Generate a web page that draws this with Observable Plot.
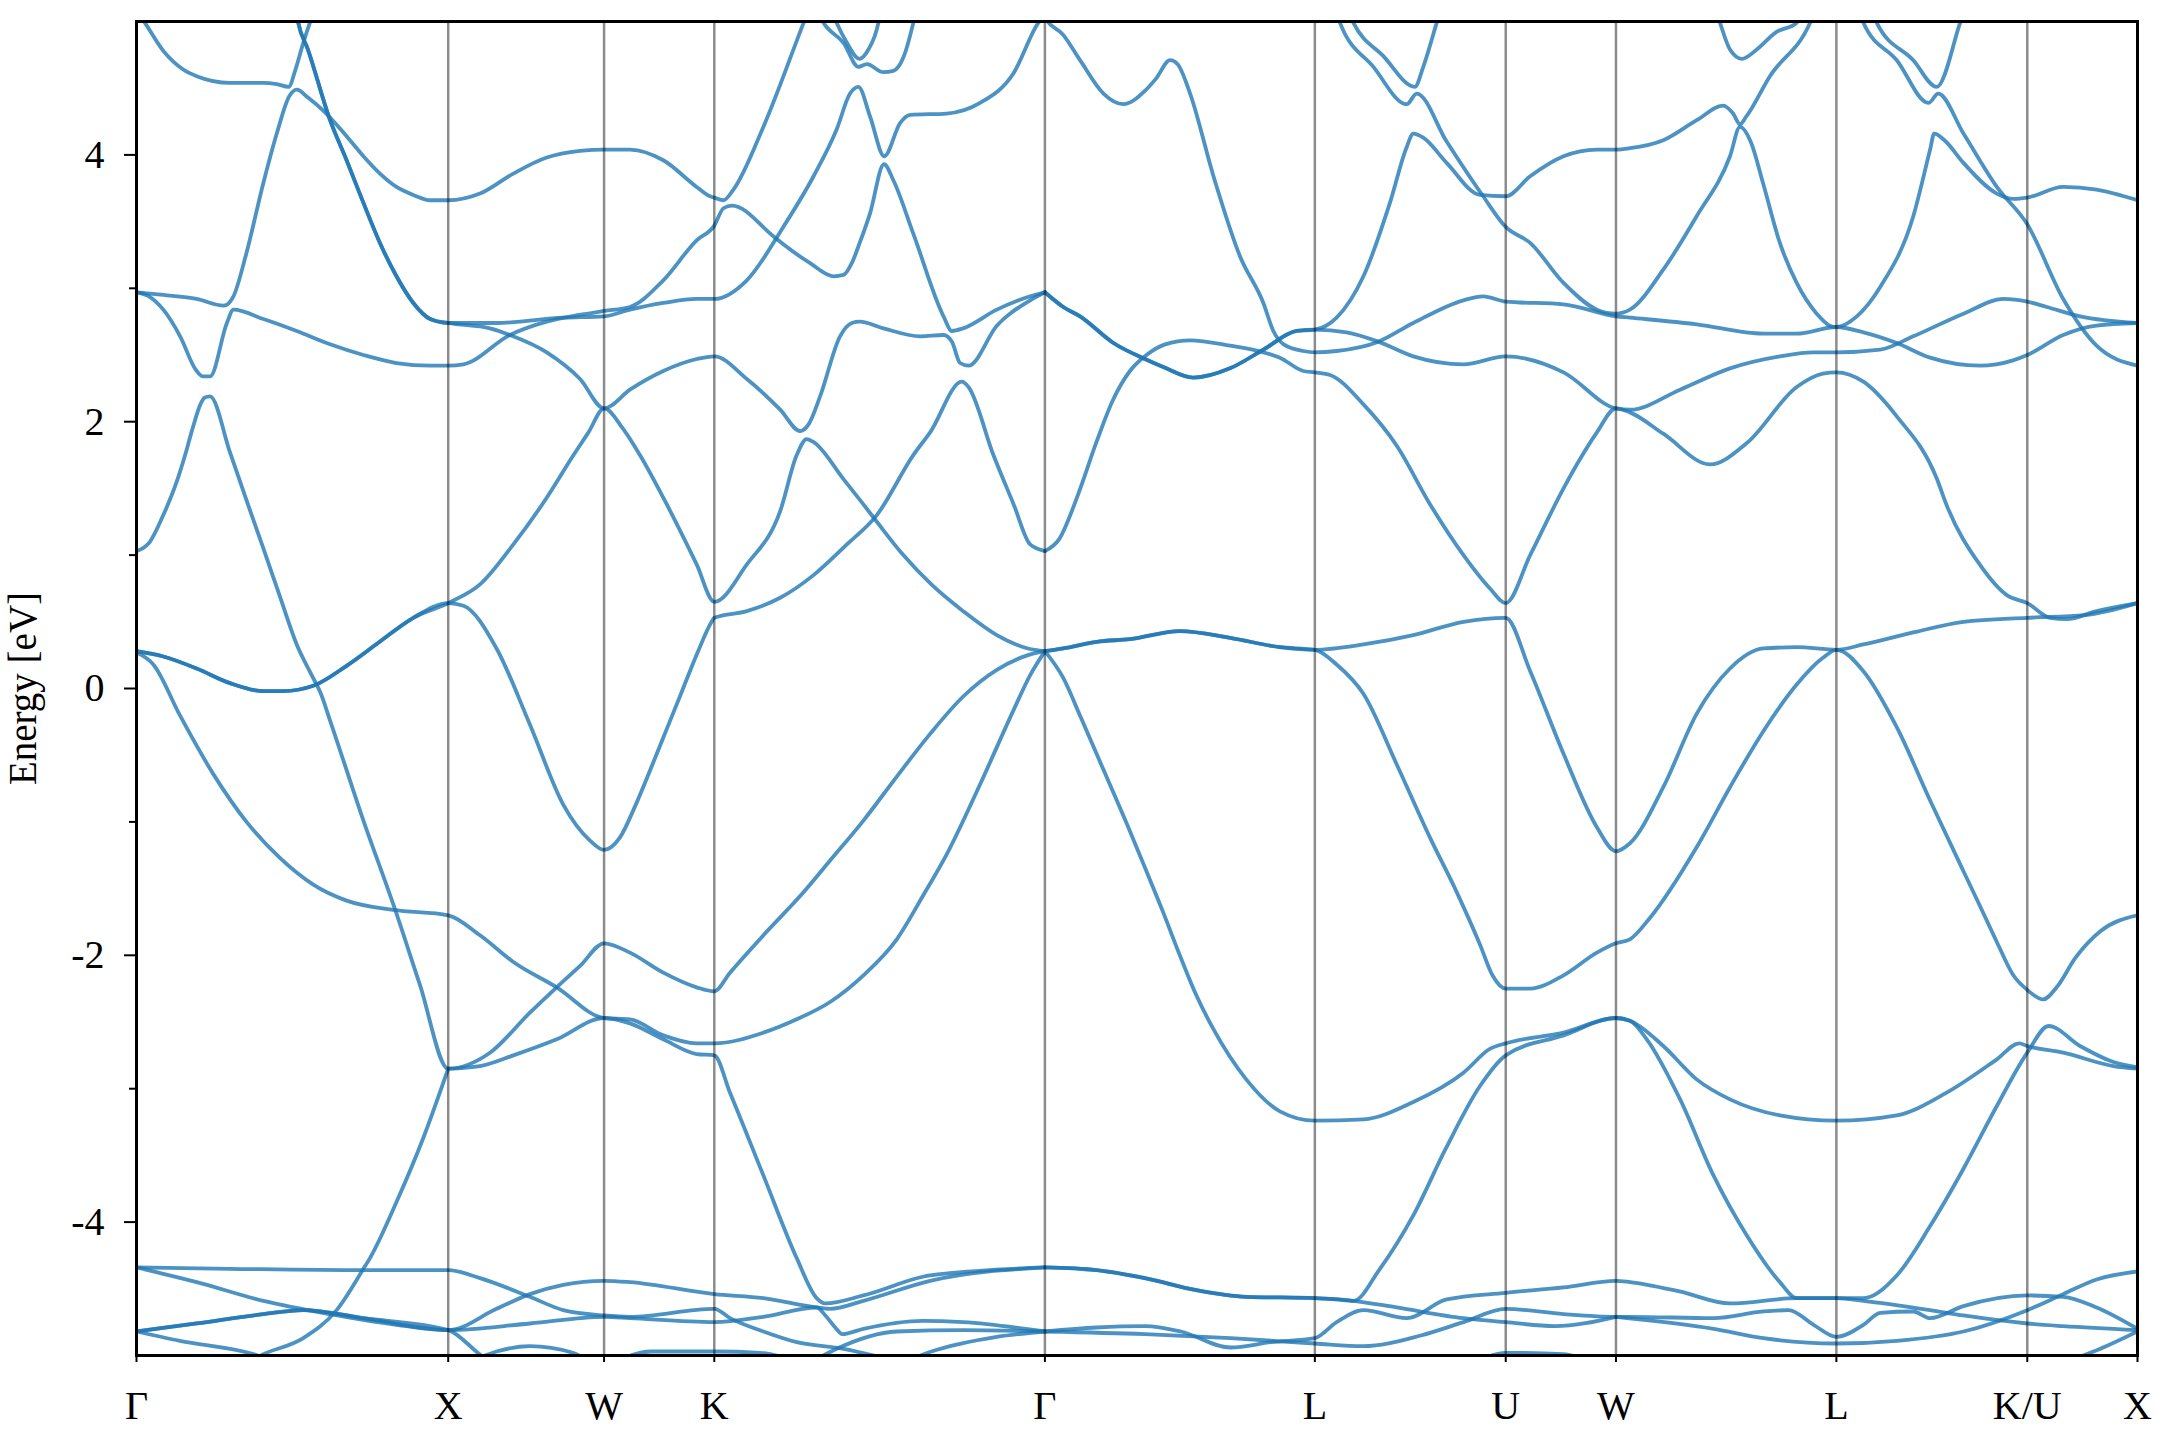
<!DOCTYPE html>
<html><head><meta charset="utf-8">
<script src="https://cdn.jsdelivr.net/npm/d3@7"></script>
<script src="https://cdn.jsdelivr.net/npm/@observablehq/plot@0.6"></script>
<style>html,body{margin:0;padding:0;background:#fff;} #chart{width:2160px;height:1440px;}</style>
</head><body><div id="chart"></div>
<script>
// High-symmetry path (k in units of 2π/a, cumulative distance)
const kPath = [0, 1, 1.5, 1.8536, 2.9142, 3.7802, 4.3926, 4.7462, 5.4533, 6.0657, 6.4193];
const kLabels = ["Γ","X","W","K","Γ","L","U","W","L","K/U","X"];
const yMajor = [-4, -2, 0, 2, 4];
const yMinor = [-3, -1, 1, 3];

// ---- shared degenerate pieces ----
const s2Core = [[0.512,5.08],[0.519,4.99],[0.55,4.79],[0.621,4.26],[0.674,3.96],[0.728,3.64],[0.781,3.34],[0.834,3.09],[0.888,2.89],[0.942,2.77],[1.0,2.74]];
const s8Core = [[0,0.28],[0.086,0.24],[0.193,0.15],[0.30,0.04],[0.407,-0.02],[0.47,-0.02],[0.567,0.02],[0.674,0.17],[0.78,0.35],[0.888,0.53],[1.0,0.64]];
const b3Core = [[0,-4.82],[0.193,-4.76],[0.407,-4.69],[0.535,-4.66],[0.728,-4.72],[1.0,-4.81]];
const h2Core = [[2.9142,2.97],[2.973,2.86],[3.027,2.79],[3.134,2.59],[3.235,2.47],[3.294,2.41],[3.39,2.33],[3.508,2.40],[3.615,2.54],[3.722,2.68],[3.7802,2.69]];
const h4Core = [[2.9142,0.28],[2.973,0.30],[3.08,0.35],[3.187,0.37],[3.347,0.43],[3.508,0.38],[3.668,0.31],[3.7802,0.29]];
const h7Core = [[2.9142,-4.34],[3.08,-4.36],[3.235,-4.42],[3.40,-4.51],[3.56,-4.56],[3.7802,-4.57]];

// ---- bands starting on Γ–X ----
const bandsGammaX = [
  [[0,5.08],[0.027,4.99],[0.086,4.78],[0.15,4.64],[0.193,4.59],[0.30,4.54],[0.407,4.54],[0.45,4.53],[0.488,4.51],[0.51,4.64],[0.535,4.84],[0.556,4.99],[0.57,5.08]],
  s2Core.concat([[1.155,2.74],[1.369,2.78],[1.5,2.79],[1.583,2.84],[1.69,2.89],[1.797,2.92],[1.8536,2.92],[1.958,3.06],[2.075,3.46],[2.172,3.84],[2.246,4.19],[2.289,4.46],[2.316,4.51],[2.353,4.29],[2.399,3.99],[2.45,4.24],[2.482,4.30],[2.599,4.31],[2.706,4.39],[2.813,4.61],[2.893,4.99],[2.9142,5.05]]),
  s2Core.concat([[1.134,2.70],[1.198,2.65],[1.316,2.52],[1.423,2.32],[1.5,2.10],[1.583,2.24],[1.69,2.38],[1.797,2.47],[1.8536,2.49],[1.958,2.32],[2.065,2.09],[2.129,1.93],[2.156,1.98],[2.193,2.19],[2.257,2.64],[2.295,2.74],[2.32,2.75],[2.396,2.70],[2.514,2.64],[2.589,2.65],[2.616,2.60],[2.642,2.44],[2.669,2.42],[2.76,2.72],[2.867,2.91],[2.9142,2.97]]),
  [[0,2.97],[0.086,2.95],[0.193,2.92],[0.28,2.87],[0.311,2.94],[0.35,3.24],[0.407,3.79],[0.45,4.16],[0.49,4.44],[0.514,4.49],[0.55,4.43],[0.60,4.33],[0.674,4.14],[0.728,3.99],[0.781,3.86],[0.834,3.76],[0.888,3.70],[0.942,3.66],[1.0,3.66],[1.102,3.71],[1.209,3.86],[1.316,3.98],[1.423,4.03],[1.5,4.04],[1.583,4.04],[1.69,3.96],[1.797,3.76],[1.84,3.69],[1.8536,3.68],[1.883,3.66],[1.915,3.74],[2.011,4.21],[2.14,4.99],[2.155,5.08]],
  [[0,2.97],[0.04,2.94],[0.086,2.84],[0.14,2.64],[0.19,2.39],[0.212,2.34],[0.236,2.34],[0.29,2.74],[0.311,2.84],[0.407,2.77],[0.514,2.68],[0.621,2.58],[0.728,2.50],[0.834,2.44],[0.942,2.42],[1.0,2.42],[1.049,2.43],[1.198,2.65],[1.316,2.75],[1.42,2.80],[1.5,2.83],[1.583,2.86],[1.69,3.06],[1.797,3.36],[1.8536,3.47],[1.883,3.60],[1.91,3.62],[2.043,3.39],[2.075,3.33],[2.16,3.19],[2.236,3.09],[2.268,3.10],[2.295,3.19],[2.32,3.34],[2.353,3.56],[2.398,3.93],[2.428,3.81],[2.492,3.41],[2.589,2.79],[2.616,2.68],[2.652,2.70],[2.76,2.84],[2.867,2.94],[2.9142,2.97]],
  [[0,1.03],[0.043,1.10],[0.086,1.30],[0.129,1.55],[0.156,1.75],[0.18,1.95],[0.205,2.13],[0.218,2.18],[0.236,2.19],[0.30,1.77],[0.35,1.43],[0.407,1.05],[0.46,0.69],[0.514,0.33],[0.562,0.10],[0.59,-0.03],[0.621,-0.24],[0.728,-0.99],[0.83,-1.66],[0.909,-2.22],[1.0,-2.85],[1.134,-2.73],[1.262,-2.43],[1.348,-2.24],[1.423,-2.08],[1.5,-1.91],[1.583,-1.98],[1.69,-2.13],[1.797,-2.24],[1.8536,-2.27],[1.904,-2.13],[2.011,-1.85],[2.139,-1.53],[2.225,-1.29],[2.332,-0.99],[2.439,-0.66],[2.546,-0.34],[2.652,-0.06],[2.76,0.14],[2.86,0.25],[2.9142,0.28]],
  s8Core.concat([[1.102,0.78],[1.209,1.08],[1.316,1.43],[1.402,1.75],[1.45,1.92],[1.5,2.10],[1.56,1.95],[1.615,1.75],[1.69,1.43],[1.797,0.93],[1.8536,0.65],[1.958,0.93],[2.065,1.33],[2.118,1.75],[2.15,1.87],[2.17,1.85],[2.268,1.57],[2.332,1.38],[2.375,1.25],[2.46,1.0],[2.55,0.78],[2.652,0.58],[2.76,0.40],[2.86,0.30],[2.9142,0.28]]),
  s8Core.concat([[1.049,0.62],[1.155,0.30],[1.262,-0.27],[1.369,-0.87],[1.455,-1.14],[1.5,-1.21],[1.55,-1.12],[1.60,-0.88],[1.65,-0.60],[1.70,-0.31],[1.75,-0.02],[1.80,0.27],[1.845,0.50],[1.8536,0.53],[1.958,0.58],[2.065,0.68],[2.172,0.85],[2.279,1.08],[2.375,1.30],[2.492,1.75],[2.546,1.92],[2.648,2.30],[2.669,2.26],[2.749,1.75],[2.814,1.38],[2.867,1.08],[2.9142,1.03]]),
  [[0,0.27],[0.054,0.18],[0.139,-0.20],[0.246,-0.64],[0.353,-1.0],[0.46,-1.27],[0.567,-1.47],[0.674,-1.59],[0.824,-1.66],[1.0,-1.70],[1.102,-1.85],[1.209,-2.05],[1.348,-2.24],[1.5,-2.47],[1.583,-2.48],[1.69,-2.60],[1.797,-2.66],[1.8536,-2.66],[2.011,-2.58],[2.118,-2.48],[2.225,-2.35],[2.332,-2.15],[2.439,-1.88],[2.524,-1.55],[2.60,-1.24],[2.706,-0.72],[2.814,-0.16],[2.867,0.10],[2.9142,0.28]],
  [[0.33,-5.08],[0.407,-4.99],[0.535,-4.87],[0.642,-4.66],[0.728,-4.35],[0.749,-4.27],[0.834,-3.85],[0.92,-3.37],[1.0,-2.85]],
  [[0,-4.34],[0.3,-4.35],[0.728,-4.36],[1.0,-4.36],[1.102,-4.42],[1.262,-4.56],[1.369,-4.66],[1.5,-4.70],[1.583,-4.71],[1.8536,-4.65],[1.904,-4.72],[2.011,-4.82],[2.118,-4.90],[2.268,-4.95],[2.40,-5.02]],
  [[0,-4.34],[0.193,-4.45],[0.407,-4.59],[0.621,-4.69],[0.834,-4.77],[1.0,-4.81],[1.155,-4.65],[1.262,-4.54],[1.369,-4.47],[1.5,-4.44],[1.583,-4.45],[1.8536,-4.54],[2.011,-4.57],[2.182,-4.64],[2.225,-4.65],[2.332,-4.59],[2.546,-4.44],[2.9142,-4.34]],
  b3Core.concat([[1.262,-4.76],[1.5,-4.71],[1.583,-4.72],[1.8536,-4.75],[2.011,-4.71],[2.182,-4.64],[2.21,-4.70],[2.245,-4.80],[2.264,-4.84],[2.332,-4.80],[2.524,-4.74],[2.652,-4.75],[2.9142,-4.82]]),
  b3Core.concat([[1.09,-4.97],[1.13,-5.05]]),
  [[0,-4.82],[0.139,-4.89],[0.375,-4.99],[0.45,-5.05]]
];

// ---- bands starting on X–W, W–K, K–Γ ----
const bandsXtoGamma = [
  [[1.0,-2.85],[1.102,-2.83],[1.209,-2.75],[1.348,-2.63],[1.5,-2.47],[1.583,-2.51],[1.69,-2.63],[1.797,-2.74],[1.8536,-2.75],[1.904,-3.03],[2.011,-3.65],[2.118,-4.27],[2.182,-4.57],[2.21,-4.61],[2.332,-4.55],[2.546,-4.40],[2.9142,-4.34]],
  [[1.06,-5.06],[1.155,-4.97],[1.262,-4.93],[1.40,-4.98],[1.46,-5.06]],
  [[1.55,-5.03],[1.65,-4.97],[1.8536,-4.97],[2.0,-4.98],[2.1,-5.03]],
  [[2.18,-5.03],[2.246,-4.95],[2.439,-4.82],[2.652,-4.81],[2.9142,-4.82]],
  [[2.46,-5.05],[2.55,-4.97],[2.76,-4.86],[2.9142,-4.82]],
  [[2.19,5.05],[2.204,4.99],[2.268,4.84],[2.316,4.66],[2.343,4.68],[2.396,4.62],[2.428,4.63],[2.46,4.73],[2.492,4.99],[2.498,5.05]],
  [[2.235,5.05],[2.246,4.99],[2.279,4.84],[2.319,4.72],[2.348,4.79],[2.38,4.99],[2.385,5.05]]
];

// ---- bands starting on Γ–L and beyond ----
const bandsGammaL = [
  [[2.90,5.1],[2.9142,5.03],[2.973,4.90],[3.027,4.71],[3.102,4.46],[3.166,4.38],[3.235,4.48],[3.27,4.57],[3.316,4.71],[3.34,4.68],[3.38,4.46],[3.455,3.84],[3.54,3.24],[3.615,2.89],[3.647,2.68],[3.68,2.58],[3.743,2.53],[3.7802,2.52],[3.85,2.53],[3.984,2.60],[4.096,2.74],[4.257,2.91],[4.32,2.94],[4.3926,2.90],[4.578,2.88],[4.7462,2.79],[4.791,2.78],[5.005,2.73],[5.219,2.66],[5.326,2.66],[5.4533,2.71],[5.54,2.67],[5.647,2.59],[5.754,2.48],[5.914,2.42],[6.02,2.46],[6.0657,2.50],[6.181,2.65],[6.288,2.72],[6.4193,2.74]],
  h2Core.concat([[3.85,2.78],[3.936,3.09],[4.021,3.64],[4.075,4.06],[4.096,4.16],[4.128,4.13],[4.203,3.94],[4.31,3.70],[4.3926,3.69],[4.471,3.84],[4.578,3.99],[4.685,4.04],[4.7462,4.04],[4.791,4.05],[4.898,4.11],[5.005,4.26],[5.09,4.37],[5.122,4.31],[5.144,4.23],[5.165,4.29],[5.24,4.59],[5.369,4.99],[5.38,5.05]]),
  h2Core.concat([[3.882,2.67],[3.984,2.60],[4.096,2.49],[4.257,2.43],[4.3926,2.49],[4.578,2.37],[4.7462,2.10],[4.791,2.09],[4.952,2.24],[5.112,2.40],[5.272,2.49],[5.38,2.52],[5.4533,2.52],[5.594,2.54],[5.70,2.64],[5.861,2.81],[5.99,2.92],[6.0657,2.90],[6.128,2.86],[6.235,2.79],[6.4193,2.74]]),
  [[2.9142,1.03],[2.96,1.12],[3.02,1.45],[3.08,1.85],[3.13,2.15],[3.187,2.38],[3.24,2.50],[3.30,2.58],[3.38,2.61],[3.508,2.57],[3.615,2.52],[3.668,2.48],[3.743,2.38],[3.7802,2.37],[3.829,2.35],[3.936,2.13],[4.043,1.82],[4.15,1.38],[4.257,1.00],[4.342,0.75],[4.3926,0.64],[4.471,1.0],[4.578,1.50],[4.631,1.72],[4.685,1.92],[4.7462,2.10],[4.791,2.07],[4.898,1.91],[5.048,1.68],[5.166,1.84],[5.326,2.26],[5.41,2.36],[5.4533,2.37],[5.54,2.30],[5.647,2.04],[5.776,1.57],[5.806,1.38],[5.913,0.93],[6.0,0.70],[6.0657,0.64],[6.139,0.53],[6.192,0.52],[6.288,0.58],[6.4193,0.64]],
  h4Core.concat([[3.936,0.33],[4.096,0.40],[4.257,0.50],[4.3926,0.53],[4.471,0.13],[4.578,-0.49],[4.685,-1.04],[4.7462,-1.22],[4.791,-1.16],[4.898,-0.74],[5.005,-0.19],[5.112,0.15],[5.219,0.30],[5.326,0.31],[5.4533,0.29],[5.54,0.33],[5.70,0.42],[5.861,0.50],[6.0657,0.53],[6.25,0.55],[6.4193,0.64]]),
  h4Core.concat([[3.85,0.18],[3.936,-0.04],[4.043,-0.57],[4.15,-1.12],[4.236,-1.53],[4.31,-1.92],[4.35,-2.15],[4.3926,-2.25],[4.471,-2.25],[4.578,-2.15],[4.685,-1.98],[4.7462,-1.91],[4.791,-1.88],[4.855,-1.72],[5.005,-1.19],[5.112,-0.74],[5.219,-0.32],[5.326,0.03],[5.41,0.23],[5.4533,0.29],[5.54,0.13],[5.647,-0.29],[5.754,-0.84],[5.861,-1.37],[5.914,-1.63],[5.968,-1.90],[6.021,-2.15],[6.0657,-2.26],[6.117,-2.33],[6.16,-2.24],[6.22,-2.02],[6.30,-1.82],[6.4193,-1.70]]),
  [[2.9142,0.28],[2.973,0.08],[3.03,-0.22],[3.08,-0.49],[3.187,-1.07],[3.24,-1.37],[3.294,-1.68],[3.347,-2.0],[3.40,-2.3],[3.454,-2.55],[3.56,-2.93],[3.668,-3.17],[3.7802,-3.24],[3.936,-3.23],[4.096,-3.10],[4.257,-2.88],[4.343,-2.70],[4.3926,-2.66],[4.578,-2.58],[4.7462,-2.47],[4.791,-2.49],[4.898,-2.68],[5.005,-2.93],[5.112,-3.08],[5.272,-3.20],[5.4533,-3.24],[5.647,-3.20],[5.807,-3.03],[5.968,-2.78],[6.04,-2.66],[6.0657,-2.68],[6.181,-2.73],[6.342,-2.83],[6.4193,-2.85]],
  h7Core.concat([[3.85,-4.58],[3.904,-4.59],[3.989,-4.35],[4.096,-3.95],[4.20,-3.45],[4.31,-2.98],[4.3926,-2.75],[4.578,-2.60],[4.7462,-2.47],[4.791,-2.49],[4.845,-2.63],[4.952,-3.08],[5.059,-3.65],[5.166,-4.10],[5.272,-4.45],[5.326,-4.57],[5.4533,-4.57],[5.54,-4.57],[5.647,-4.40],[5.754,-4.03],[5.861,-3.60],[5.968,-3.13],[6.0657,-2.73],[6.134,-2.53],[6.235,-2.68],[6.342,-2.80],[6.4193,-2.84]]),
  h7Core.concat([[3.904,-4.59],[4.043,-4.64],[4.257,-4.72],[4.3926,-4.75],[4.55,-4.78],[4.7462,-4.71]]),
  [[2.9142,-4.82],[3.08,-4.79],[3.235,-4.78],[3.35,-4.82],[3.51,-4.94],[3.64,-4.90],[3.7802,-4.87],[3.85,-4.75],[3.936,-4.66],[4.075,-4.72],[4.203,-4.58],[4.3926,-4.53],[4.578,-4.49],[4.7462,-4.44],[4.791,-4.45],[4.95,-4.52],[5.112,-4.61],[5.326,-4.57],[5.4533,-4.57],[5.54,-4.59],[5.754,-4.66],[5.861,-4.70],[6.0657,-4.76],[6.181,-4.78],[6.4193,-4.81]],
  [[2.9142,-4.82],[3.235,-4.84],[3.51,-4.87],[3.7802,-4.91],[3.936,-4.93],[4.12,-4.85],[4.257,-4.75],[4.3926,-4.65],[4.578,-4.69],[4.7462,-4.71],[4.791,-4.71],[5.06,-4.72],[5.219,-4.67],[5.30,-4.66],[5.38,-4.77],[5.4533,-4.86],[5.54,-4.77],[5.594,-4.68],[5.70,-4.67],[5.754,-4.72],[5.861,-4.63],[6.0657,-4.55],[6.181,-4.56],[6.288,-4.64],[6.4193,-4.80]],
  [[4.7462,-4.71],[5.06,-4.80],[5.219,-4.87],[5.4533,-4.91],[5.647,-4.89],[5.861,-4.82],[6.0657,-4.66],[6.181,-4.54],[6.288,-4.43],[6.4193,-4.37]],
  [[4.30,-5.04],[4.3926,-4.98],[4.578,-4.99],[4.65,-5.04]],
  [[6.2,-5.04],[6.3,-4.95],[6.4193,-4.82]]
];

// ---- upper bands starting near L ----
const bandsUpperL = [
  [[3.85,5.06],[3.861,4.99],[3.968,4.66],[4.075,4.38],[4.107,4.46],[4.203,4.10],[4.32,3.69],[4.3926,3.46],[4.471,3.34],[4.578,3.04],[4.685,2.84],[4.7462,2.81],[4.791,2.84],[4.898,3.14],[5.005,3.54],[5.112,3.99],[5.144,4.21],[5.18,4.09],[5.219,3.78],[5.272,3.34],[5.326,3.04],[5.39,2.81],[5.432,2.72],[5.4533,2.71],[5.519,2.79],[5.594,3.01],[5.70,3.54],[5.754,4.04],[5.767,4.16],[5.80,4.11],[5.861,3.94],[5.968,3.71],[6.02,3.67],[6.0657,3.68],[6.181,3.76],[6.288,3.74],[6.4193,3.66]],
  [[3.89,5.06],[3.904,4.99],[4.0,4.74],[4.101,4.51],[4.128,4.66],[4.171,4.99],[4.18,5.06]],
  [[5.07,5.06],[5.08,4.99],[5.112,4.79],[5.15,4.72],[5.198,4.79],[5.26,4.92],[5.326,4.99],[5.335,5.06]],
  [[5.53,5.06],[5.54,4.99],[5.647,4.71],[5.749,4.39],[5.78,4.46],[5.861,4.16],[5.968,3.76],[6.0657,3.48],[6.181,2.92],[6.288,2.57],[6.4193,2.42]],
  [[5.575,5.06],[5.583,4.99],[5.70,4.71],[5.775,4.51],[5.85,4.99],[5.86,5.06]]
];

const allBands = [...bandsGammaX, ...bandsXtoGamma, ...bandsGammaL, ...bandsUpperL];
const rows = allBands.flatMap((b, id) => b.map(([k, E]) => ({k, E, id})));
const labelOf = new Map(kPath.map((k, i) => [k, kLabels[i]]));
const font = "'Liberation Serif', 'Times New Roman', serif";

const chart = Plot.plot({
  width: 2160, height: 1440,
  marginLeft: 136, marginRight: 23, marginTop: 21, marginBottom: 85,
  x: {domain: [0, kPath[kPath.length - 1]]},
  y: {domain: [-5, 5]},
  style: {fontFamily: font, background: "white", color: "black"},
  marks: [
    Plot.line(rows, {x: "k", y: "E", z: "id", stroke: "#1f77b4", strokeOpacity: 0.8, strokeWidth: 3.8, curve: "monotone-x", clip: true}),
    Plot.ruleX(kPath.slice(1, -1), {stroke: "black", strokeOpacity: 0.45, strokeWidth: 2.5}),
    Plot.axisY(yMajor, {tickSize: 12, tickPadding: 20, strokeWidth: 2, fontSize: 40, tickFormat: d => String(d), label: null}),
    Plot.axisY(yMinor, {tickSize: 7, strokeWidth: 2, tickFormat: () => "", label: null}),
    Plot.axisX(kPath, {tickSize: 7, tickPadding: 28, strokeWidth: 2, fontSize: 40, tickFormat: d => labelOf.get(d), label: null}),
    Plot.text(["Energy [eV]"], {frameAnchor: "left", dx: -113, rotate: -90, textAnchor: "middle", fontSize: 39, fill: "black"}),
    Plot.frame({stroke: "black", strokeWidth: 3})
  ]
});
document.getElementById("chart").append(chart);
</script></body></html>
